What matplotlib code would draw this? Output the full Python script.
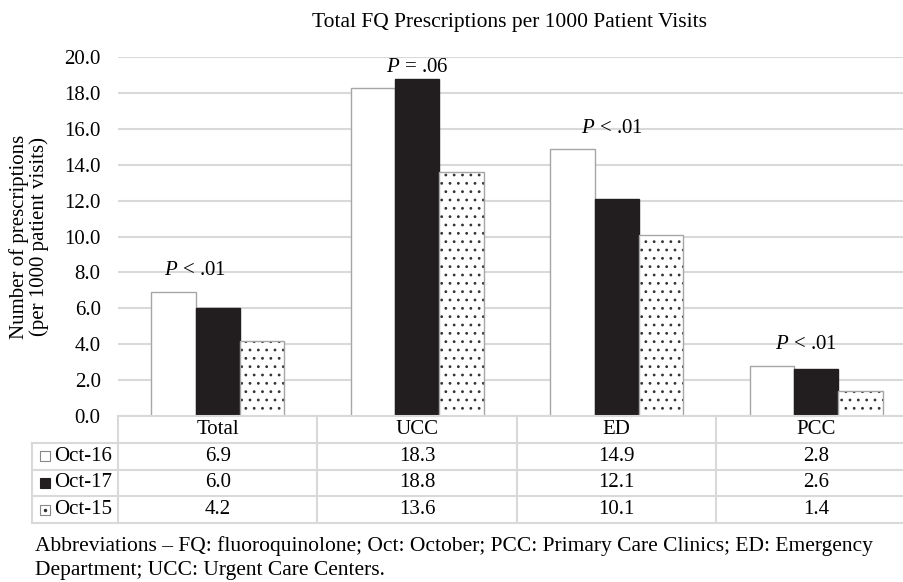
import numpy as np
import matplotlib
matplotlib.use('Agg')
import matplotlib.pyplot as plt

plt.rcParams['font.family'] = ['Liberation Serif', 'DejaVu Serif']
plt.rcParams['mathtext.fontset'] = 'custom'
plt.rcParams['mathtext.it'] = 'Liberation Serif:italic'
plt.rcParams['mathtext.rm'] = 'Liberation Serif'
plt.rcParams['hatch.linewidth'] = 0.8

# data
categories = ['Total', 'UCC', 'ED', 'PCC']
series_names = ['Oct-16', 'Oct-17', 'Oct-15']
oct16 = [6.9, 18.3, 14.9, 2.8]
oct17 = [6.0, 18.8, 12.1, 2.6]
oct15 = [4.2, 13.6, 10.1, 1.4]
p_labels = [r'$P$ < .01', r'$P$ = .06', r'$P$ < .01', r'$P$ < .01']
p_label_y = [8.1, 19.4, 16.0, 4.0]
y_ticks = [0.0, 2.0, 4.0, 6.0, 8.0, 10.0, 12.0, 14.0, 16.0, 18.0, 20.0]

FS = 15
FS_BIG = 15.5
GRID = '#d9d9d9'
EDGE = '#a6a6a6'
DARK = '#221e1f'

W, H = 904, 582
fig = plt.figure(figsize=(W / 100, H / 100), dpi=100)

# main bar axes (pixel geometry of the reference)
left_px, right_px, top_px, bot_px = 118, 916, 57, 416
ax = fig.add_axes([left_px / W, 1 - bot_px / H, (right_px - left_px) / W, (bot_px - top_px) / H])

x = np.arange(len(categories))
bw = 0.223
ax.bar(x - bw, oct16, bw, color='white', edgecolor=EDGE, linewidth=1.0, zorder=3)
ax.bar(x, oct17, bw, color=DARK, edgecolor=DARK, linewidth=1.0, zorder=3)
ax.bar(x + bw, oct15, bw, color='white', edgecolor='#333333', hatch='..', linewidth=0, zorder=3)
ax.bar(x + bw, oct15, bw, fill=False, edgecolor=EDGE, linewidth=1.0, zorder=4)

p_dx = [-0.114, 0.0, -0.024, -0.05]
for i, (lab, yy) in enumerate(zip(p_labels, p_label_y)):
    ax.text(x[i] + p_dx[i], yy, lab, ha='center', va='center', fontsize=FS, zorder=5)

ax.set_xlim(-0.5, len(categories) - 0.5)
ax.set_ylim(0, 20)
ax.set_yticks(y_ticks)
ax.set_yticklabels(['%.1f' % t for t in y_ticks], fontsize=FS)
ax.set_xticks([])
ax.tick_params(axis='y', length=0, pad=12.5)
ax.yaxis.grid(True, color=GRID, linewidth=1.5, zorder=0)
for s in ax.spines.values():
    s.set_visible(False)
ax.set_ylabel('Number of prescriptions\n(per 1000 patient visits)', fontsize=FS,
              linespacing=1.0, va='center')
ax.yaxis.set_label_coords((29 - left_px) / (right_px - left_px), 0.5)

fig.text(510 / W, 1 - 22 / H, 'Total FQ Prescriptions per 1000 Patient Visits',
         ha='center', va='center', fontsize=FS_BIG)

# data table under the bars
tab_top, tab_bot = 416, 523
tax = fig.add_axes([left_px / W, 1 - tab_bot / H, (right_px - left_px) / W, (tab_bot - tab_top) / H])
tax.set_xlim(-0.5, len(categories) - 0.5)
tax.set_ylim(4, 0)
tax.axis('off')
lab_x0 = -0.5 - (left_px - 32) / (right_px - left_px) * len(categories)
lw_t = 1.5
tax.plot([-0.5, 3.5], [0, 0], color=GRID, lw=lw_t, clip_on=False)
for r in range(1, 5):
    tax.plot([lab_x0, 3.5], [r, r], color=GRID, lw=lw_t, clip_on=False)
tax.plot([lab_x0, lab_x0], [1, 4], color=GRID, lw=lw_t, clip_on=False)
for c in range(len(categories)):
    tax.plot([c - 0.5, c - 0.5], [0, 4], color=GRID, lw=lw_t, clip_on=False)

for c, cat in enumerate(categories):
    tax.text(c, 0.5, cat, ha='center', va='center', fontsize=FS)
rows = [oct16, oct17, oct15]
for r, vals in enumerate(rows):
    for c, v in enumerate(vals):
        tax.text(c, r + 1.5, '%.1f' % v, ha='center', va='center', fontsize=FS)

mk_x = -0.5 - (left_px - 45) / (right_px - left_px) * len(categories)
txt_x = -0.5 - (left_px - 54) / (right_px - left_px) * len(categories)
tax.plot(mk_x, 1.5, marker='s', ms=7.5, mfc='white', mec='#888888', mew=0.8, clip_on=False)
tax.plot(mk_x, 2.5, marker='s', ms=7.5, mfc=DARK, mec=DARK, mew=0.8, clip_on=False)
tax.plot(mk_x, 3.5, marker='s', ms=7.5, mfc='white', mec='#888888', mew=0.8, clip_on=False)
tax.plot(mk_x, 3.5, marker='o', ms=1.5, mfc='#333333', mec='#333333', clip_on=False)
for r, name in enumerate(series_names):
    tax.text(txt_x, r + 1.5, name, ha='left', va='center', fontsize=FS)

fig.text(35 / W, 1 - 546 / H,
         'Abbreviations – FQ: fluoroquinolone; Oct: October; PCC: Primary Care Clinics; ED: Emergency',
         ha='left', va='center', fontsize=FS_BIG)
fig.text(35 / W, 1 - 571 / H, 'Department; UCC: Urgent Care Centers.',
         ha='left', va='center', fontsize=FS_BIG)

fig.savefig('out.png', dpi=100)
